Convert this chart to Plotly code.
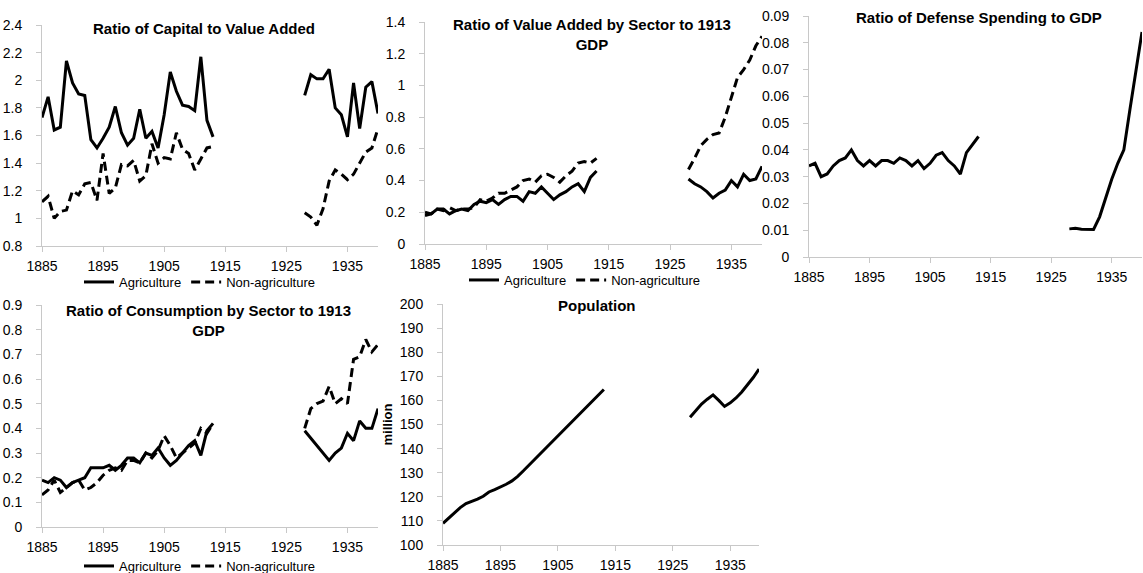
import plotly.graph_objects as go

# ---------------- data ----------------
years_pre = list(range(1885, 1914))
years_post = list(range(1928, 1941))
gap_years = list(range(1914, 1928))
years = years_pre + gap_years + years_post

cap_agri_pre = [1.73, 1.88, 1.64, 1.66, 2.14, 1.98, 1.90, 1.89, 1.57, 1.51, 1.58, 1.66, 1.81, 1.62,
                1.53, 1.58, 1.79, 1.58, 1.63, 1.51, 1.75, 2.06, 1.92, 1.82, 1.81, 1.78, 2.17, 1.71, 1.59]
cap_agri_post = [1.89, 2.04, 2.01, 2.01, 2.08, 1.80, 1.75, 1.59, 1.98, 1.65, 1.95, 1.99, 1.76]
cap_non_pre = [1.12, 1.16, 1.00, 1.05, 1.06, 1.20, 1.17, 1.25, 1.26, 1.13, 1.47, 1.18, 1.22, 1.39,
               1.38, 1.42, 1.27, 1.31, 1.54, 1.40, 1.44, 1.43, 1.62, 1.50, 1.47, 1.35, 1.43, 1.51, 1.52]
cap_non_post = [1.04, 1.01, 0.95, 1.07, 1.27, 1.35, 1.32, 1.28, 1.32, 1.40, 1.48, 1.51, 1.65]

va_agri_pre = [0.20, 0.19, 0.22, 0.22, 0.19, 0.21, 0.22, 0.21, 0.25, 0.27, 0.26, 0.28, 0.25, 0.28,
               0.30, 0.30, 0.27, 0.33, 0.32, 0.36, 0.32, 0.28, 0.31, 0.33, 0.36, 0.38, 0.33, 0.42, 0.46]
va_agri_post = [0.41, 0.38, 0.36, 0.33, 0.29, 0.32, 0.34, 0.40, 0.36, 0.44, 0.40, 0.41, 0.49]
va_non_pre = [0.18, 0.19, 0.22, 0.21, 0.23, 0.21, 0.22, 0.22, 0.23, 0.28, 0.27, 0.29, 0.32, 0.32,
              0.34, 0.36, 0.40, 0.41, 0.39, 0.43, 0.44, 0.42, 0.39, 0.43, 0.46, 0.51, 0.52, 0.51, 0.54]
va_non_post = [0.47, 0.54, 0.62, 0.66, 0.69, 0.70, 0.80, 0.93, 1.05, 1.10, 1.16, 1.25, 1.31]

def_pre = [0.034, 0.035, 0.030, 0.031, 0.034, 0.036, 0.037, 0.040, 0.036, 0.034, 0.036, 0.034, 0.036, 0.036,
           0.035, 0.037, 0.036, 0.034, 0.036, 0.033, 0.035, 0.038, 0.039, 0.036, 0.034, 0.031, 0.039, 0.042, 0.045]
def_post = [0.0105, 0.0107, 0.0104, 0.0103, 0.0103, 0.015, 0.022, 0.029, 0.035, 0.040, 0.055, 0.070, 0.084]

con_agri_pre = [0.19, 0.18, 0.20, 0.19, 0.16, 0.18, 0.19, 0.20, 0.24, 0.24, 0.24, 0.25, 0.23, 0.25,
                0.28, 0.28, 0.26, 0.30, 0.29, 0.32, 0.28, 0.25, 0.27, 0.30, 0.33, 0.35, 0.29, 0.39, 0.42]
con_agri_post = [0.39, 0.36, 0.33, 0.30, 0.27, 0.30, 0.32, 0.38, 0.35, 0.43, 0.40, 0.40, 0.48]
con_non_pre = [0.13, 0.15, 0.19, 0.14, 0.16, 0.18, 0.19, 0.15, 0.16, 0.18, 0.21, 0.23, 0.24, 0.23,
               0.27, 0.27, 0.26, 0.30, 0.28, 0.31, 0.37, 0.33, 0.28, 0.30, 0.32, 0.34, 0.40, 0.38, 0.42]
con_non_post = [0.40, 0.48, 0.50, 0.51, 0.57, 0.50, 0.52, 0.50, 0.68, 0.69, 0.76, 0.71, 0.74]

pop_pre = [109, 111.3, 113.5, 115.5, 117.2, 118, 119, 120.2, 122, 123, 124, 125.2, 126.6, 128.5,
           130.8, 133.2, 135.6, 138, 140.4, 142.8, 145.2, 147.6, 150.2, 152.7, 155.2, 157.5, 159.8, 162.2, 164.5]
pop_post = [153, 156, 158.5, 160.5, 162.3, 160, 157.5, 159, 161, 163.5, 166.5, 169.5, 173]

x_ticks = [1885, 1895, 1905, 1915, 1925, 1935]

titles = ["Ratio of Capital to Value Added",
          "Ratio of Value Added by Sector to 1913<br>GDP",
          "Ratio of Defense Spending to GDP",
          "Ratio of Consumption by Sector to 1913<br>GDP",
          "Population"]
series_names = ["Agriculture", "Non-agriculture"]
pop_unit = "million"


def full(pre, post):
    return pre + [None] * len(gap_years) + post


W, H = 1143, 573
FONT = "Liberation Sans, Arial, sans-serif"
TICKFONT = "Liberation Sans Narrow, Arial Narrow, Liberation Sans, sans-serif"
AXC = "#c8c8c8"


def px_x(a, b):
    return [a / W, b / W]


def px_y(top, bottom):
    return [1 - bottom / H, 1 - top / H]


fig = go.Figure()

panels = {
    1: dict(x=px_x(42, 378), y=px_y(25, 246), yr=[0.8, 2.4], dt=0.2),
    2: dict(x=px_x(425, 762), y=px_y(22, 244), yr=[0, 1.4], dt=0.2),
    3: dict(x=px_x(809, 1142), y=px_y(16, 257), yr=[0, 0.09], dt=0.01),
    4: dict(x=px_x(42, 378), y=px_y(305, 527), yr=[0, 0.9], dt=0.1),
    5: dict(x=px_x(443, 759), y=px_y(304, 545), yr=[100, 200], dt=10),
}

solid = dict(color="black", width=3)
dashed = dict(color="black", width=3, dash="9px,5px")

fig.add_trace(go.Scatter(x=years, y=full(cap_agri_pre, cap_agri_post), mode="lines", line=solid,
                         name=series_names[0], xaxis="x", yaxis="y", legend="legend"))
fig.add_trace(go.Scatter(x=years, y=full(cap_non_pre, cap_non_post), mode="lines", line=dashed,
                         name=series_names[1], xaxis="x", yaxis="y", legend="legend"))
fig.add_trace(go.Scatter(x=years, y=full(va_agri_pre, va_agri_post), mode="lines", line=solid,
                         name=series_names[0], xaxis="x2", yaxis="y2", legend="legend2"))
fig.add_trace(go.Scatter(x=years, y=full(va_non_pre, va_non_post), mode="lines", line=dashed,
                         name=series_names[1], xaxis="x2", yaxis="y2", legend="legend2"))
fig.add_trace(go.Scatter(x=years, y=full(def_pre, def_post), mode="lines", line=solid,
                         showlegend=False, xaxis="x3", yaxis="y3"))
fig.add_trace(go.Scatter(x=years, y=full(con_agri_pre, con_agri_post), mode="lines", line=solid,
                         name=series_names[0], xaxis="x4", yaxis="y4", legend="legend3"))
fig.add_trace(go.Scatter(x=years, y=full(con_non_pre, con_non_post), mode="lines", line=dashed,
                         name=series_names[1], xaxis="x4", yaxis="y4", legend="legend3"))
fig.add_trace(go.Scatter(x=years, y=full(pop_pre, pop_post), mode="lines", line=solid,
                         showlegend=False, xaxis="x5", yaxis="y5"))

layout = dict(
    width=W, height=H,
    margin=dict(l=0, r=0, t=0, b=0, autoexpand=False),
    paper_bgcolor="white", plot_bgcolor="white",
    font=dict(family=FONT, size=12, color="black"),
    showlegend=True,
)

for i, p in panels.items():
    sfx = "" if i == 1 else str(i)
    layout["xaxis" + sfx] = dict(
        domain=p["x"], anchor="y" + sfx, range=[1885, 1940], tickmode="array", tickvals=x_ticks,
        showgrid=False, zeroline=False, showline=True, linecolor=AXC, linewidth=1,
        ticks="outside", ticklen=5, tickcolor=AXC, ticklabelstandoff=2,
        tickfont=dict(family=TICKFONT, size=14), fixedrange=True, automargin=False)
    layout["yaxis" + sfx] = dict(
        domain=p["y"], anchor="x" + sfx, range=p["yr"], dtick=p["dt"], tick0=0,
        showgrid=False, zeroline=False, showline=True, linecolor=AXC, linewidth=1,
        ticks="outside", ticklen=5, tickcolor=AXC, ticklabelstandoff=11,
        tickfont=dict(family=TICKFONT, size=14), fixedrange=True, automargin=False)

layout["yaxis5"]["title"] = dict(text="<b>" + pop_unit + "</b>", font=dict(size=13), standoff=4)

leg_common = dict(orientation="h", xref="paper", yref="paper", xanchor="center", yanchor="middle",
                  font=dict(size=13), bgcolor="rgba(0,0,0,0)", itemwidth=30, tracegroupgap=0)
layout["legend"] = dict(leg_common, x=200 / W, y=1 - 282 / H)
layout["legend2"] = dict(leg_common, x=585 / W, y=1 - 280 / H)
layout["legend3"] = dict(leg_common, x=200 / W, y=1 - 566 / H)

fig.update_layout(**layout)

title_pos = [(204, 29), (592, 35), (979, 17), (208, 320), (597, 305)]
for t, (cx, cy) in zip(titles, title_pos):
    fig.add_annotation(text="<b>" + t + "</b>", x=cx / W, y=1 - cy / H, xref="paper", yref="paper",
                       xanchor="center", yanchor="middle", showarrow=False,
                       font=dict(family=FONT, size=15, color="black"))

fig.write_html("out.html", config={"displayModeBar": False},
               post_script="document.body.style.margin='0';document.body.style.overflow='hidden';")
